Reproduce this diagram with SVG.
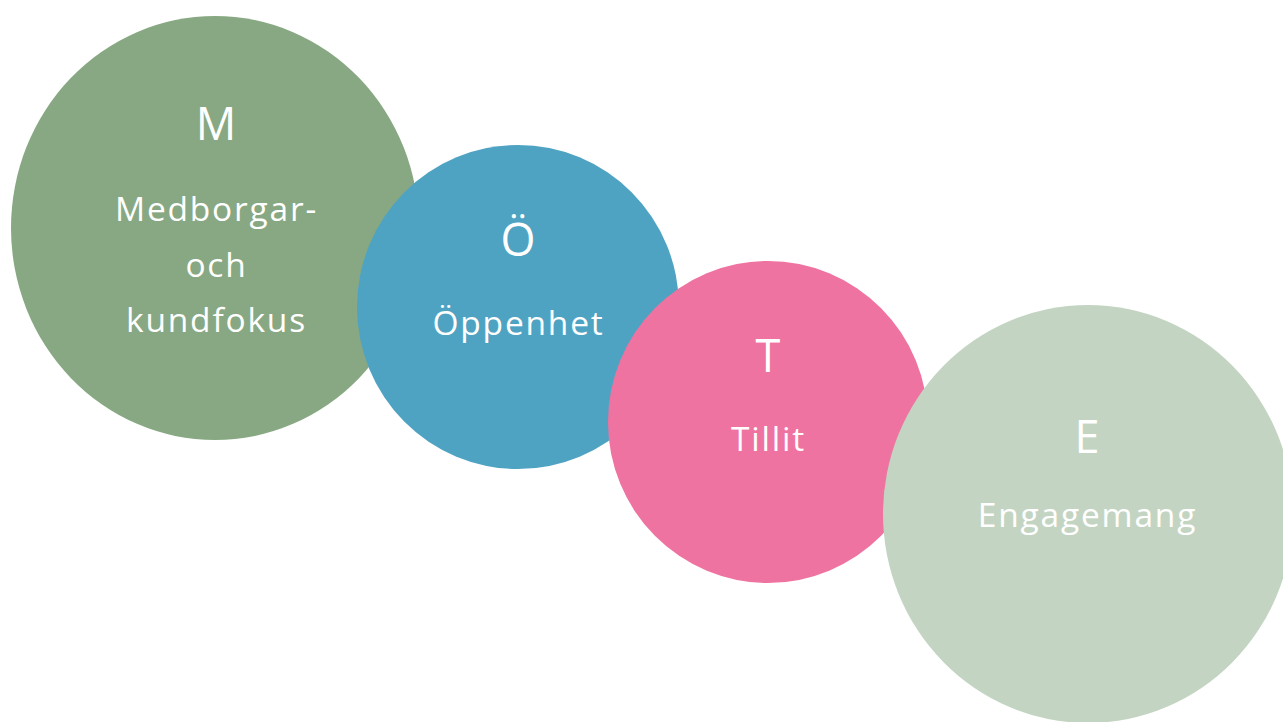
<svg xmlns="http://www.w3.org/2000/svg" width="1283" height="722" viewBox="0 0 1283 722">
<style>
text{font-family:"Open Sans","Noto Sans","Liberation Sans",sans-serif;fill:#fff;text-anchor:middle}
.big{font-size:45px}
.lbl{font-size:33.5px;letter-spacing:1.8px}
</style>
<rect width="1283" height="722" fill="#fff"/>
<g id="node-m">
<ellipse cx="215" cy="228" rx="204" ry="212" fill="#87A882"/>
<text class="big" x="216" y="140">M</text>
<text class="lbl" x="216.5" y="221">Medborgar-</text>
<text class="lbl" x="216.5" y="277">och</text>
<text class="lbl" x="216.5" y="332">kundfokus</text>
</g>
<g id="node-o">
<ellipse cx="518" cy="307" rx="161" ry="162" fill="#4FA3C2"/>
<text class="big" x="518" y="256">Ö</text>
<text class="lbl" x="518.5" y="335">Öppenhet</text>
</g>
<g id="node-t">
<ellipse cx="768" cy="422" rx="160" ry="161" fill="#EF73A0"/>
<text class="big" x="768" y="372">T</text>
<text class="lbl" x="768.5" y="451">Tillit</text>
</g>
<g id="node-e">
<ellipse cx="1088" cy="514" rx="205" ry="209" fill="#C3D5C2"/>
<text class="big" x="1087" y="453">E</text>
<text class="lbl" x="1087.5" y="527">Engagemang</text>
</g>
<g id="connectors"></g>
</svg>
